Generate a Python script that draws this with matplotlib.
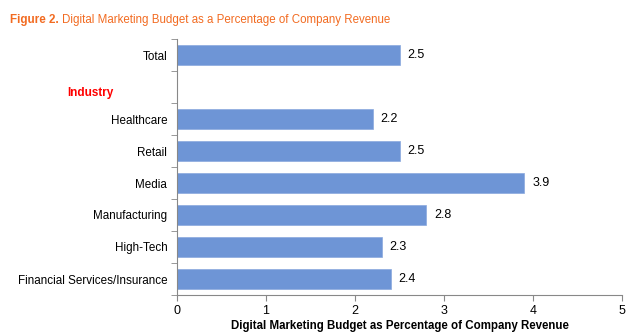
import matplotlib.pyplot as plt

categories = ["Total", "", "Healthcare", "Retail", "Media", "Manufacturing", "High-Tech", "Financial Services/Insurance"]
values = [2.5, None, 2.2, 2.5, 3.9, 2.8, 2.3, 2.4]
xticks = [0, 1, 2, 3, 4, 5]

plt.rcParams['font.family'] = ['Liberation Sans', 'DejaVu Sans']
fig = plt.figure(figsize=(6.38, 3.33), dpi=100)
ax = fig.add_axes([177/638, 1-295/333, (622-177)/638, (295-39)/333])

bar_color = "#6E95D6"
ypos = list(range(len(categories)))
for y, v in zip(ypos, values):
    if v is None:
        continue
    ax.barh(y, v, height=0.6, color=bar_color, edgecolor="#8AA9DE", linewidth=0.5)
    ax.text(v + 0.09, y, f"{v:.1f}", va="center", ha="left", fontsize=9, color="black")

ax.set_ylim(len(categories) - 0.5, -0.5)
ax.set_xlim(0, 5)
ax.set_xticks(xticks)
ax.set_xticklabels([str(t) for t in xticks], fontsize=9)
ax.set_yticks(ypos)
ax.set_yticklabels(categories, fontsize=8.4)
ax.tick_params(axis='y', length=0, pad=7)
ax.set_yticks([y + 0.5 for y in range(-1, len(categories))], minor=True)
ax.tick_params(axis='y', which='minor', length=4, color='#888888', direction='out')
ax.tick_params(axis='x', length=4, color='#888888', direction='out', pad=3)
for s in ['top', 'right']:
    ax.spines[s].set_visible(False)
for s in ['left', 'bottom']:
    ax.spines[s].set_color('#888888')
ax.set_xlabel("Digital Marketing Budget as Percentage of Company Revenue", fontsize=8.3, fontweight='bold', labelpad=2)

fig.text(90/638, 1-93/333, "Industry", color="#FF0000", fontweight='bold', fontsize=8.5, ha='center', va='center')

orange = "#F26B21"
t1 = fig.text(10/638, 1-20/333, "Figure 2.", color=orange, fontweight='bold', fontsize=8.4, va='center', family='Liberation Sans')
fig.canvas.draw()
bb = t1.get_window_extent()
fig.text((bb.x1 + 3)/638, 1-20/333, "Digital Marketing Budget as a Percentage of Company Revenue", color=orange, fontsize=8.3, va='center', family='Liberation Sans')

fig.savefig("out.png", dpi=100)
